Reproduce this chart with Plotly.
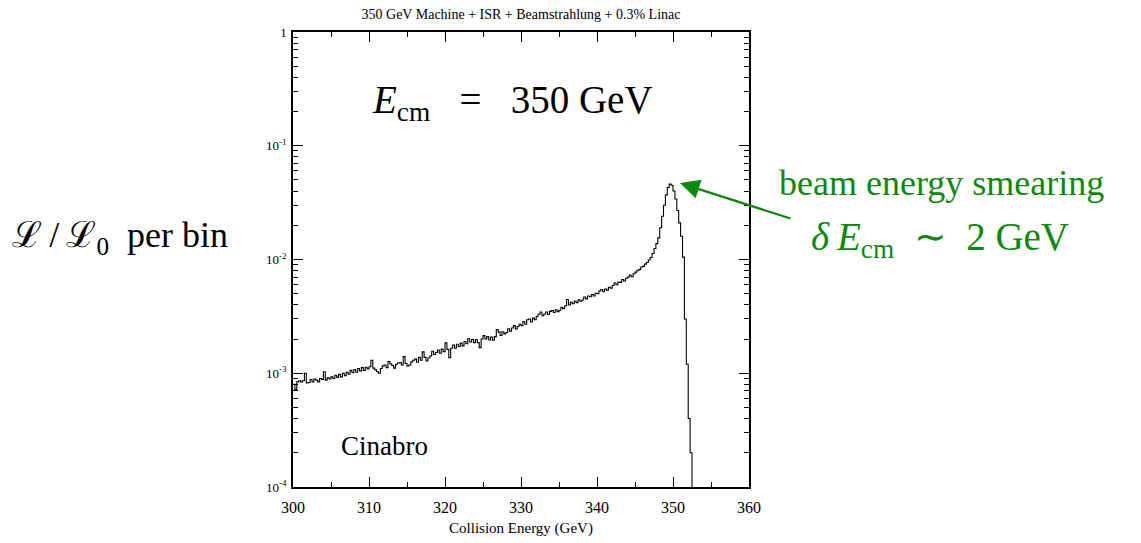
import numpy as np
import plotly.graph_objects as go

# Luminosity fraction per 0.25 GeV bin (units of 1e-3), one row per GeV, starting at 300 GeV
bin_start = 300.0
bin_width = 0.25
lum_rows = [
    [0.80, 0.72, 0.84, 0.86],   # 300
    [0.84, 0.86, 1.00, 0.82],   # 301
    [0.83, 0.88, 0.84, 0.89],   # 302
    [0.87, 0.84, 0.90, 0.88],   # 303
    [1.03, 0.87, 0.91, 0.89],   # 304
    [0.93, 0.90, 0.96, 0.92],   # 305
    [0.98, 0.93, 1.00, 0.95],   # 306
    [1.02, 0.98, 1.06, 1.01],   # 307
    [1.08, 1.02, 1.10, 1.05],   # 308
    [1.12, 1.06, 1.13, 1.09],   # 309
    [1.14, 1.30, 1.11, 1.07],   # 310
    [1.03, 1.00, 1.10, 1.16],   # 311
    [1.18, 1.12, 1.27, 1.21],   # 312
    [1.17, 1.11, 1.20, 1.23],   # 313
    [1.24, 1.18, 1.40, 1.22],   # 314
    [1.16, 1.18, 1.26, 1.30],   # 315
    [1.33, 1.25, 1.38, 1.30],   # 316
    [1.54, 1.38, 1.28, 1.36],   # 317
    [1.42, 1.56, 1.46, 1.52],   # 318
    [1.60, 1.50, 1.63, 1.55],   # 319
    [1.85, 1.62, 1.37, 1.66],   # 320
    [1.77, 1.66, 1.80, 1.72],   # 321
    [1.84, 1.74, 1.90, 1.82],   # 322
    [2.02, 1.88, 1.98, 1.86],   # 323
    [1.98, 1.86, 1.68, 2.00],   # 324
    [2.14, 2.00, 2.10, 1.96],   # 325
    [2.08, 1.95, 2.10, 2.42],   # 326
    [2.30, 2.15, 2.32, 2.22],   # 327
    [2.28, 2.46, 2.34, 2.50],   # 328
    [2.62, 2.45, 2.58, 2.70],   # 329
    [2.62, 2.85, 2.70, 2.95],   # 330
    [3.00, 2.82, 3.05, 2.95],   # 331
    [3.15, 3.30, 3.45, 3.20],   # 332
    [3.32, 3.45, 3.28, 3.50],   # 333
    [3.55, 3.42, 3.62, 3.48],   # 334
    [3.58, 3.80, 3.70, 3.92],   # 335
    [4.45, 3.98, 4.20, 4.08],   # 336
    [4.32, 4.18, 4.42, 4.30],   # 337
    [4.40, 4.68, 4.50, 4.78],   # 338
    [4.70, 4.92, 4.78, 5.05],   # 339
    [5.00, 5.28, 5.45, 5.20],   # 340
    [5.50, 5.38, 5.70, 5.60],   # 341
    [5.90, 6.22, 6.00, 6.35],   # 342
    [6.30, 6.68, 6.48, 6.85],   # 343
    [7.00, 7.30, 7.05, 7.50],   # 344
    [7.75, 8.05, 8.15, 8.60],   # 345
    [8.70, 9.10, 9.40, 9.90],   # 346
    [10.4, 11.3, 12.5, 13.8],   # 347
    [15.5, 19.0, 24.0, 30.0],   # 348
    [37.0, 43.0, 46.0, 45.0],   # 349
    [40.0, 34.0, 27.0, 21.0],   # 350
    [16.0, 10.5, 3.0, 1.2],     # 351
    [0.40, 0.20, 0.0, 0.0],     # 352
    [0.0, 0.0, 0.0, 0.0],       # 353
    [0.0, 0.0, 0.0, 0.0],       # 354
    [0.0, 0.0, 0.0, 0.0],       # 355
    [0.0, 0.0, 0.0, 0.0],       # 356
    [0.0, 0.0, 0.0, 0.0],       # 357
    [0.0, 0.0, 0.0, 0.0],       # 358
    [0.0, 0.0, 0.0, 0.0],       # 359
]

x_ticks = [300, 310, 320, 330, 340, 350, 360]
y_ticks = [1e-4, 1e-3, 1e-2, 1e-1, 1]
y_ticktext = ["10<sup>-4</sup>", "10<sup>-3</sup>", "10<sup>-2</sup>", "10<sup>-1</sup>", "1"]

lum = np.array(lum_rows).ravel() * 1e-3
edges = bin_start + bin_width * np.arange(len(lum) + 1)
y = np.append(lum, lum[-1])
y_plot = np.where(y > 0, y, 1e-9)  # empty bins drop below the log axis

SERIF = "Liberation Serif"
GREEN = "#0a8a0a"
NB = "\u00a0"

fig = go.Figure()
fig.add_trace(go.Scatter(x=edges, y=y_plot, mode="lines",
                         line=dict(shape="hv", color="black", width=1.1),
                         showlegend=False, hoverinfo="skip"))

minor_y = [k * 10.0 ** e for e in range(-4, 0) for k in range(2, 10)]

fig.update_layout(
    width=1141, height=543,
    margin=dict(l=293, r=392, t=32, b=56),
    paper_bgcolor="white", plot_bgcolor="white",
    font=dict(family=SERIF, color="black"),
    title=dict(text="350 GeV Machine + ISR + Beamstrahlung + 0.3% Linac",
               x=521 / 1141, xanchor="center", y=1 - 14 / 543, yanchor="middle",
               font=dict(size=14, family=SERIF, color="black")),
    xaxis=dict(range=[300, 360], tickvals=x_ticks, ticks="inside", ticklen=10,
               tickwidth=1, tickcolor="black", mirror="ticks", showline=True,
               linecolor="black", linewidth=1.5, showgrid=False, zeroline=False,
               automargin=False,
               tickfont=dict(size=16, family=SERIF, color="black"),
               ticklabelstandoff=5,
               minor=dict(dtick=5, tick0=300, ticks="inside", ticklen=5,
                          tickcolor="black", showgrid=False),
               title=dict(text="Collision Energy (GeV)", standoff=8,
                          font=dict(size=15, family=SERIF, color="black"))),
    yaxis=dict(type="log", range=[-4, 0], tickvals=y_ticks, ticktext=y_ticktext,
               ticks="inside", ticklen=10, tickwidth=1, tickcolor="black",
               mirror="ticks", showline=True, linecolor="black", linewidth=1.5,
               showgrid=False, zeroline=False, automargin=False,
               ticklabelstandoff=2,
               tickfont=dict(size=13, family=SERIF, color="black"),
               minor=dict(tickvals=minor_y, ticks="inside", ticklen=5,
                          tickcolor="black", showgrid=False)),
)

def px_to_paper(px, py):
    return (px - 293) / 456.0, 1 - (py - 32) / 455.0

def text_anno(px, py, text, size, color):
    ax_, ay_ = px_to_paper(px, py)
    return dict(x=ax_, y=ay_, xref="paper", yref="paper", showarrow=False,
                xanchor="center", yanchor="middle", text=text,
                font=dict(size=size, family=SERIF, color=color))

annos = [
    text_anno(512, 102, "<i>E</i><sub>cm</sub>" + NB * 3 + "=" + NB * 3 + "350" + NB + "GeV", 39, "black"),
    text_anno(384, 446, "Cinabro", 27, "black"),
    text_anno(120, 238, "\u2112\u2009/\u2009\u2112<sub>0</sub>" + NB + " per bin", 36, "black"),
    text_anno(941, 183, "beam energy smearing", 36, GREEN),
    text_anno(940, 240, "<i>\u03b4\u2009E</i><sub>cm</sub>" + NB + " \u223c" + NB + " 2" + NB + "GeV", 39, GREEN),
]
tx, ty = px_to_paper(680, 183)
annos.append(dict(x=tx, y=ty, xref="paper", yref="paper", text="",
                  showarrow=True, ax=112, ay=36, axref="pixel", ayref="pixel",
                  arrowhead=2, arrowsize=1.7, arrowwidth=2.3, arrowcolor=GREEN,
                  standoff=0, startstandoff=0))
fig.update_layout(annotations=annos)

fig.write_html("out.html")
